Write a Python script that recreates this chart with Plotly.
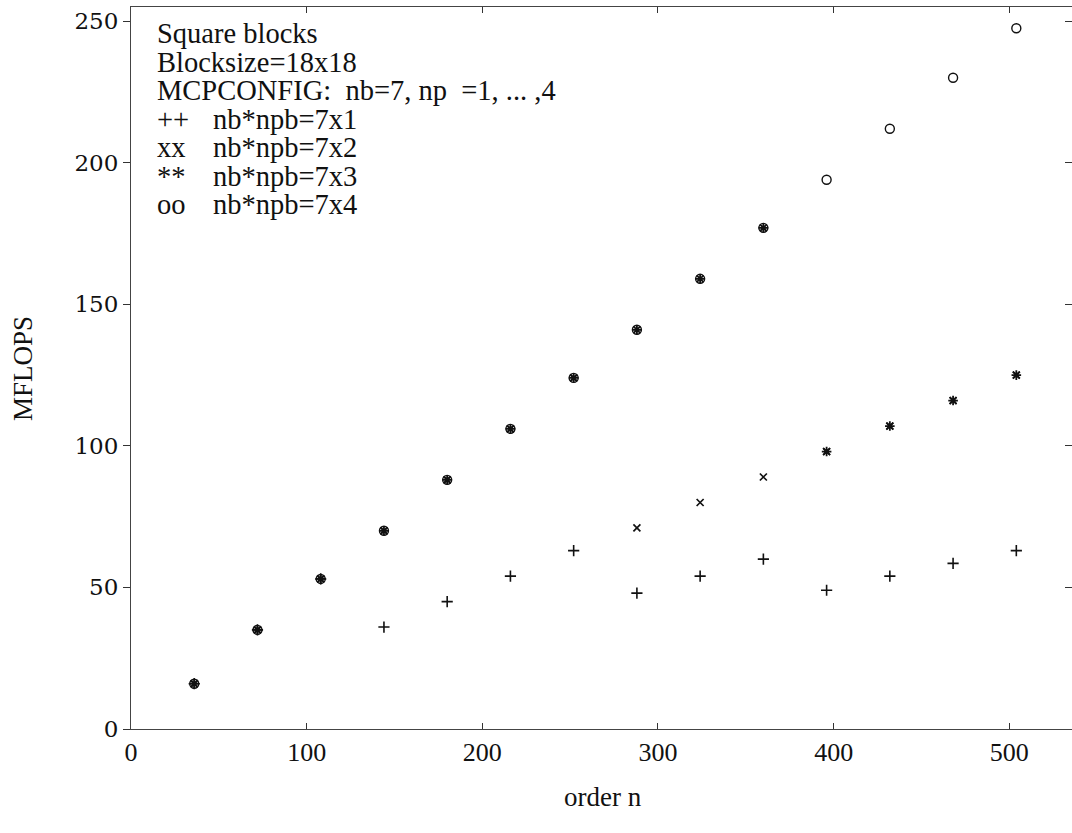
import plotly.graph_objects as go

# ---- data ----
order_n = [36, 72, 108, 144, 180, 216, 252, 288, 324, 360, 396, 432, 468, 504]
mflops_7x1 = [16, 35, 53, 36, 45, 54, 63, 48, 54, 60, 49, 54, 58.5, 63]
mflops_7x2 = [16, 35, 53, 70, 88, 106, 124, 71, 80, 89, 98, 107, 116, 125]
mflops_7x3 = [16, 35, 53, 70, 88, 106, 124, 141, 159, 177, 98, 107, 116, 125]
mflops_7x4 = [16, 35, 53, 70, 88, 106, 124, 141, 159, 177, 194, 212, 230, 247.5]

x_ticks = [0, 100, 200, 300, 400, 500]
y_ticks = [0, 50, 100, 150, 200, 250]

legend_lines = [
    ("", "Square blocks"),
    ("", "Blocksize=18x18"),
    ("", "MCPCONFIG:  nb=7, np  =1, ... ,4"),
    ("++", "nb*npb=7x1"),
    ("xx", "nb*npb=7x2"),
    ("**", "nb*npb=7x3"),
    ("oo", "nb*npb=7x4"),
]

SERIF = "Liberation Serif, Times New Roman, serif"
INK = "#111111"

fig = go.Figure()
series = [
    (mflops_7x4, "circle-open", 9, 1.4),
    (mflops_7x3, "asterisk-open", 8, 1.8),
    (mflops_7x2, "x-thin-open", 7, 1.7),
    (mflops_7x1, "cross-thin-open", 8, 1.6),
]
for vals, sym, size, lw in series:
    fig.add_trace(go.Scatter(
        x=order_n, y=vals, mode="markers",
        marker=dict(symbol=sym, size=size, color=INK,
                    line=dict(color=INK, width=lw)),
        showlegend=False, hoverinfo="skip"))

# invisible companion trace so the right-hand (inward) tick axis is drawn
fig.add_trace(go.Scatter(x=order_n[:1], y=mflops_7x4[:1], yaxis="y2",
                         mode="markers", marker=dict(opacity=0),
                         showlegend=False, hoverinfo="skip"))

W, H = 1072, 833
L, R, T, B = 131, 0, 7, 104
plot_h = H - T - B


def py(pix_y):
    return (H - B - pix_y) / plot_h


def px(pix_x):
    return (pix_x - L) / (W - L - R)


annotations = []
base_y = 34
step = 28.4
font_leg = dict(family=SERIF, size=28.5, color=INK)
for i, (sym, txt) in enumerate(legend_lines):
    yy = py(base_y + i * step)
    if sym:
        annotations.append(dict(x=px(155), y=yy, xref="paper", yref="paper",
                                text=sym, showarrow=False, xanchor="left",
                                yanchor="middle", font=font_leg))
        annotations.append(dict(x=px(211), y=yy, xref="paper", yref="paper",
                                text=txt, showarrow=False, xanchor="left",
                                yanchor="middle", font=font_leg))
    else:
        annotations.append(dict(x=px(155), y=yy, xref="paper", yref="paper",
                                text=txt, showarrow=False, xanchor="left",
                                yanchor="middle", font=font_leg))

font_title = dict(family=SERIF, size=27, color=INK)
annotations.append(dict(x=px(23), y=py(369), xref="paper", yref="paper",
                        text="MFLOPS", showarrow=False, textangle=-90,
                        xanchor="center", yanchor="middle", font=font_title))
annotations.append(dict(x=px(603), y=py(797), xref="paper", yref="paper",
                        text="order n", showarrow=False,
                        xanchor="center", yanchor="middle", font=font_title))

fig.update_layout(
    width=W, height=H,
    margin=dict(l=L, r=R, t=T, b=B, pad=0),
    paper_bgcolor="white", plot_bgcolor="white",
    annotations=annotations,
    xaxis=dict(range=[0, 535.7], tickvals=x_ticks, ticktext=[str(v) for v in x_ticks],
               ticks="inside", ticklen=6, tickcolor="#333", tickwidth=1,
               showline=True, linecolor="#444", linewidth=1, mirror="ticks",
               showgrid=False, zeroline=False,
               tickfont=dict(family=SERIF, size=26, color=INK)),
    yaxis=dict(range=[0, 255], tickvals=y_ticks, ticktext=[str(v) for v in y_ticks],
               ticks="outside", ticklen=7, tickcolor="#333", tickwidth=1,
               showline=True, linecolor="#444", linewidth=1, mirror=True,
               showgrid=False, zeroline=False,
               tickfont=dict(family="DejaVu Serif, serif", size=23, color=INK)),
    yaxis2=dict(range=[0, 255], tickvals=y_ticks, overlaying="y", side="right",
                ticks="inside", ticklen=7, tickcolor="#333", tickwidth=1,
                showticklabels=False, showgrid=False, zeroline=False,
                showline=False),
)

fig.write_html("out.html")
